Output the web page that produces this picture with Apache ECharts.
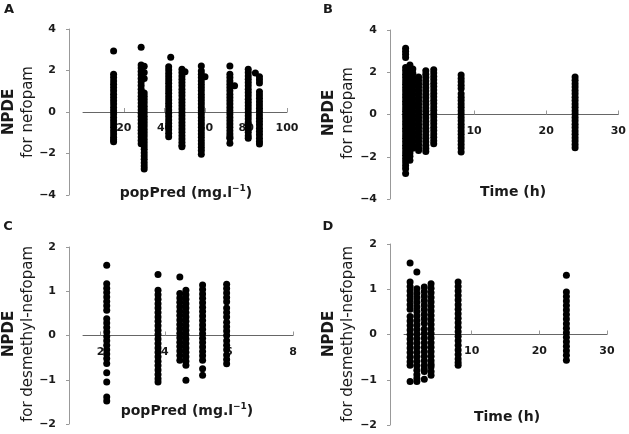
<!DOCTYPE html>
<html>
<head>
<meta charset="utf-8">
<script src="https://cdn.jsdelivr.net/npm/echarts@6/dist/echarts.min.js"></script>
<style>
  html, body { margin: 0; padding: 0; background: #fff; }
  #chart { width: 629px; height: 434px; }
</style>
</head>
<body>
<div id="chart"></div>
<script>
// A: NPDE nefopam vs popPred
var nefPredX = [15, 28.5, 30, 42, 43, 48.5, 50, 58, 59.8, 72, 74.3, 81, 84.5, 86.5];
var nefPredY = [
  [2.94, 1.82, 1.66, 1.5, 1.34, 1.18, 1.02, 0.86, 0.7, 0.54, 0.38, 0.22, 0.06, -0.1, -0.26, -0.42, -0.58, -0.74, -0.9, -1.06, -1.22, -1.34, -1.43],
  [3.12, 2.27, 2.12, 1.95, 1.8, 1.62, 1.45, 1.28, 1.1, 0.93, 0.76, 0.6, 0.43, 0.27, 0.1, -0.06, -0.22, -0.39, -0.55, -0.72, -0.88, -1.04, -1.2, -1.37, -1.53],
  [2.2, 1.9, 1.62, 0.92, 0.76, 0.6, 0.44, 0.28, 0.12, -0.04, -0.2, -0.36, -0.52, -0.68, -0.84, -1.0, -1.16, -1.32, -1.48, -1.64, -1.8, -1.96, -2.12, -2.28, -2.44, -2.6, -2.75],
  [2.18, 2.02, 1.86, 1.7, 1.54, 1.38, 1.22, 1.06, 0.9, 0.74, 0.58, 0.42, 0.26, 0.1, -0.06, -0.22, -0.38, -0.54, -0.7, -0.86, -1.02, -1.19],
  [2.64],
  [2.06, 1.9, 1.74, 1.58, 1.42, 1.26, 1.1, 0.94, 0.78, 0.62, 0.46, 0.3, 0.14, -0.02, -0.18, -0.34, -0.5, -0.66, -0.82, -0.98, -1.14, -1.3, -1.46, -1.6, -1.67],
  [1.94],
  [2.22, 1.98, 1.82, 1.66, 1.5, 1.34, 1.18, 1.02, 0.86, 0.7, 0.54, 0.38, 0.22, 0.06, -0.1, -0.26, -0.42, -0.58, -0.74, -0.9, -1.06, -1.22, -1.38, -1.54, -1.7, -1.86, -2.04],
  [1.7],
  [2.22, 1.82, 1.66, 1.5, 1.34, 1.18, 1.02, 0.86, 0.7, 0.54, 0.38, 0.22, 0.06, -0.1, -0.26, -0.42, -0.58, -0.74, -0.9, -1.06, -1.2, -1.27, -1.51],
  [1.27],
  [2.06, 1.9, 1.74, 1.58, 1.42, 1.26, 1.1, 0.94, 0.78, 0.62, 0.46, 0.3, 0.14, -0.02, -0.18, -0.34, -0.5, -0.66, -0.82, -0.98, -1.14, -1.27],
  [1.88],
  [1.7, 1.55, 1.4, 0.98, 0.82, 0.66, 0.5, 0.34, 0.18, 0.02, -0.14, -0.3, -0.46, -0.62, -0.78, -0.94, -1.1, -1.26, -1.42, -1.54]
];

// B: NPDE nefopam vs time
var nefTimeX = [0.5, 1.1, 1.5, 2.3, 3.3, 4.4, 8.2, 24];
var nefTimeY = [
  [3.14, 3.0, 2.85, 2.7, 2.23, 2.07, 1.91, 1.75, 1.59, 1.43, 1.27, 1.11, 0.95, 0.79, 0.63, 0.47, 0.31, 0.15, -0.01, -0.17, -0.33, -0.49, -0.65, -0.81, -0.97, -1.13, -1.29, -1.45, -1.61, -1.77, -1.93, -2.09, -2.25, -2.41, -2.57, -2.79],
  [2.34, 2.18, 2.02, 1.86, 1.7, 1.54, 1.38, 1.22, 1.06, 0.9, 0.74, 0.58, 0.42, 0.26, 0.1, -0.06, -0.22, -0.38, -0.54, -0.7, -0.86, -1.02, -1.18, -1.34, -1.5, -1.66, -1.82, -1.98, -2.17],
  [2.15, 1.95, 1.75, 1.55, 1.35, 1.15, 0.95, 0.75, 0.55, 0.35, 0.15, -0.05, -0.25, -0.45, -0.65, -0.85, -1.05, -1.25, -1.45, -1.6],
  [1.78, 1.62, 1.46, 1.3, 1.14, 0.98, 0.82, 0.66, 0.5, 0.34, 0.18, 0.02, -0.14, -0.3, -0.46, -0.62, -0.78, -0.94, -1.1, -1.26, -1.42, -1.58, -1.7],
  [2.07, 1.91, 1.75, 1.59, 1.43, 1.27, 1.11, 0.95, 0.79, 0.63, 0.47, 0.31, 0.15, -0.01, -0.17, -0.33, -0.49, -0.65, -0.81, -0.97, -1.13, -1.29, -1.45, -1.61, -1.75],
  [2.12, 1.96, 1.8, 1.64, 1.48, 1.32, 1.16, 1.0, 0.84, 0.68, 0.52, 0.36, 0.2, 0.04, -0.12, -0.28, -0.44, -0.6, -0.76, -0.92, -1.08, -1.24, -1.38],
  [1.87, 1.71, 1.55, 1.39, 1.23, 0.98, 0.82, 0.66, 0.5, 0.34, 0.18, 0.02, -0.14, -0.3, -0.46, -0.62, -0.78, -0.94, -1.1, -1.26, -1.42, -1.58, -1.78],
  [1.78, 1.62, 1.46, 1.3, 1.14, 0.98, 0.82, 0.66, 0.5, 0.34, 0.18, 0.02, -0.14, -0.3, -0.46, -0.62, -0.78, -0.94, -1.1, -1.26, -1.42, -1.57]
];

// C: NPDE desmethyl-nefopam vs popPred
var desPredX = [2.19, 3.79, 4.47, 4.66, 5.18, 5.93];
var desPredY = [
  [1.59, 1.17, 1.07, 0.97, 0.87, 0.77, 0.67, 0.57, 0.38, 0.28, 0.18, 0.08, -0.02, -0.12, -0.22, -0.32, -0.42, -0.52, -0.63, -0.84, -1.05, -1.39, -1.48],
  [1.38, 1.02, 0.92, 0.82, 0.72, 0.62, 0.52, 0.42, 0.32, 0.22, 0.12, 0.02, -0.08, -0.18, -0.28, -0.38, -0.48, -0.58, -0.68, -0.78, -0.88, -0.98, -1.05],
  [1.32, 0.95, 0.85, 0.75, 0.65, 0.55, 0.45, 0.35, 0.25, 0.15, 0.05, -0.05, -0.15, -0.25, -0.35, -0.45, -0.56],
  [1.02, 0.92, 0.82, 0.72, 0.62, 0.52, 0.42, 0.32, 0.22, 0.12, 0.02, -0.08, -0.18, -0.28, -0.38, -0.48, -0.58, -0.67, -1.01],
  [1.14, 1.04, 0.94, 0.84, 0.74, 0.64, 0.54, 0.44, 0.34, 0.24, 0.14, 0.04, -0.06, -0.16, -0.26, -0.36, -0.46, -0.56, -0.75, -0.9],
  [1.16, 1.06, 0.96, 0.86, 0.76, 0.62, 0.52, 0.42, 0.3, 0.2, 0.1, 0.0, -0.12, -0.22, -0.32, -0.44, -0.54, -0.64]
];

// D: NPDE desmethyl-nefopam vs time
var desTimeX = [0.9, 1.9, 3.0, 4.0, 8, 24];
var desTimeY = [
  [1.58, 1.16, 1.06, 0.96, 0.86, 0.76, 0.66, 0.56, 0.4, 0.3, 0.2, 0.1, 0.0, -0.1, -0.2, -0.3, -0.4, -0.5, -0.6, -0.68, -1.04],
  [1.38, 1.01, 0.91, 0.81, 0.71, 0.61, 0.51, 0.41, 0.31, 0.21, 0.11, 0.01, -0.09, -0.19, -0.29, -0.39, -0.49, -0.59, -0.69, -0.79, -0.89, -0.97, -1.04],
  [1.05, 0.95, 0.85, 0.75, 0.65, 0.55, 0.45, 0.35, 0.25, 0.12, 0.02, -0.08, -0.18, -0.28, -0.38, -0.48, -0.58, -0.68, -0.76, -0.82, -0.99],
  [1.12, 1.02, 0.92, 0.82, 0.72, 0.62, 0.52, 0.42, 0.32, 0.22, 0.12, 0.02, -0.08, -0.18, -0.28, -0.38, -0.48, -0.58, -0.66, -0.71, -0.82, -0.9],
  [1.16, 1.06, 0.96, 0.86, 0.76, 0.66, 0.56, 0.46, 0.36, 0.26, 0.16, 0.06, -0.04, -0.14, -0.24, -0.34, -0.44, -0.54, -0.62, -0.68],
  [1.31, 0.94, 0.84, 0.74, 0.64, 0.54, 0.44, 0.34, 0.24, 0.14, 0.04, -0.06, -0.16, -0.26, -0.36, -0.46, -0.57]
];

var predTicksA = [20, 40, 60, 80, 100];
var timeTicks = [10, 20, 30];
var predTicksC = [2, 4, 6, 8];

function pairs(xs, ys) {
  var out = [];
  xs.forEach(function (x, i) {
    ys[i].forEach(function (y) { out.push([x, y]); });
  });
  return out;
}

var FONT = 'DejaVu Sans';
var txt = '#1a1a1a';

// x axis sits on y = 0, which is the middle of each grid: pull it up by half the grid height
function xAx(idx, min, max, ticks, off) {
  return {
    gridIndex: idx, type: 'value', min: min, max: max, position: 'bottom', offset: off,
    axisLine: { show: true, onZero: false, lineStyle: { color: '#666', width: 1 } },
    axisTick: { show: true, inside: true, length: 4, customValues: ticks, lineStyle: { color: '#999' } },
    axisLabel: { customValues: ticks, margin: 11, color: txt, fontSize: 11, fontFamily: FONT, fontWeight: 'bold' },
    splitLine: { show: false }
  };
}
function yAx(idx, min, max, step, off) {
  return {
    gridIndex: idx, type: 'value', min: min, max: max, interval: step, offset: off,
    axisLine: { show: true, onZero: false, lineStyle: { color: '#999', width: 1 } },
    axisTick: { show: true, length: 3, lineStyle: { color: '#999' } },
    axisLabel: {
      margin: 13, color: txt, fontSize: 11, fontFamily: FONT, fontWeight: 'bold',
      formatter: function (v) { return String(v).replace('-', '\u2212'); }
    },
    splitLine: { show: false }
  };
}
function ser(idx, data) {
  return {
    type: 'scatter', xAxisIndex: idx, yAxisIndex: idx, data: data,
    symbol: 'circle', symbolSize: 7, itemStyle: { color: '#000', opacity: 1 }, silent: true
  };
}
function yTitle(x, y, line2) {
  return [
    { type: 'text', x: x, y: y, rotation: Math.PI / 2,
      style: { text: 'NPDE', fontSize: 15, fontWeight: 'bold', fontFamily: FONT, fill: txt, align: 'center', verticalAlign: 'middle' } },
    { type: 'text', x: x + 19, y: y, rotation: Math.PI / 2,
      style: { text: line2, fontSize: 15, fontFamily: FONT, fill: txt, align: 'center', verticalAlign: 'middle' } }
  ];
}
function xTitle(x, y, s) {
  return { type: 'text', x: x, y: y,
    style: { text: s, fontSize: 14, fontWeight: 'bold', fontFamily: FONT, fill: txt, align: 'center', verticalAlign: 'middle',
      rich: { s: { fontSize: 9, fontWeight: 'bold', fontFamily: FONT, fill: txt, verticalAlign: 'bottom', padding: [0, 0, 8, 0] } } } };
}
function letter(x, y, s) {
  return { type: 'text', x: x, y: y,
    style: { text: s, fontSize: 13, fontWeight: 'bold', fontFamily: FONT, fill: txt, align: 'center', verticalAlign: 'middle' } };
}

var chart = echarts.init(document.getElementById('chart'));
chart.setOption({
  backgroundColor: '#fff',
  animation: false,
  grid: [
    { left: 83, top: 29, width: 204, height: 166 },
    { left: 402, top: 30, width: 220, height: 169 },
    { left: 83, top: 247, width: 210, height: 177 },
    { left: 404, top: 244, width: 203, height: 181 }
  ],
  xAxis: [
    xAx(0, 0, 100, predTicksA, -83),
    xAx(1, 0, 30, timeTicks, -84.5),
    xAx(2, 1.45, 8, predTicksC, -88.5),
    xAx(3, 0, 30, timeTicks, -90.5)
  ],
  yAxis: [
    yAx(0, -4, 4, 2, 14),
    yAx(1, -4, 4, 2, 12),
    yAx(2, -2, 2, 1, 14),
    yAx(3, -2, 2, 1, 14)
  ],
  series: [
    ser(0, pairs(nefPredX, nefPredY)),
    ser(1, pairs(nefTimeX, nefTimeY)),
    ser(2, pairs(desPredX, desPredY)),
    ser(3, pairs(desTimeX, desTimeY))
  ],
  graphic: [].concat(
    yTitle(9, 112, 'for nefopam'),
    yTitle(329, 113, 'for nefopam'),
    yTitle(9, 334, 'for desmethyl-nefopam'),
    yTitle(329, 334, 'for desmethyl-nefopam'),
    [
      xTitle(186, 193, 'popPred (mg.l{s|\u22121})'),
      xTitle(513, 192, 'Time (h)'),
      xTitle(187, 411, 'popPred (mg.l{s|\u22121})'),
      xTitle(507, 417, 'Time (h)'),
      letter(9, 10, 'A'),
      letter(328, 10, 'B'),
      letter(8, 227, 'C'),
      letter(328, 227, 'D')
    ]
  )
});
</script>
</body>
</html>
